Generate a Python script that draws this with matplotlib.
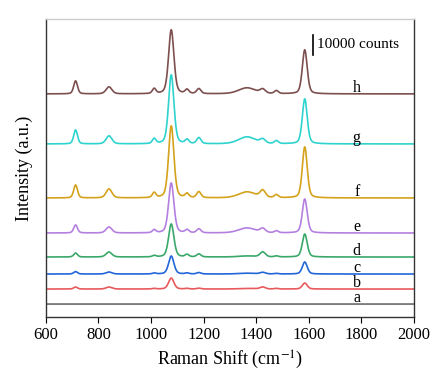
import numpy as np
import matplotlib
matplotlib.use("Agg")
import matplotlib.pyplot as plt

plt.rcParams['font.family'] = ['Liberation Serif', 'DejaVu Serif']
plt.rcParams['mathtext.fontset'] = 'stix'

# peak centres (cm-1) and full widths
centers = [713, 840, 1012, 1077, 1137, 1182, 1365, 1425, 1477, 1585]
widths = [17, 26, 16, 24, 17, 19, 75, 24, 18, 22]

labels = ['a', 'b', 'c', 'd', 'e', 'f', 'g', 'h']
colors = ['#6b6b6b', '#e8595c', '#2266d8', '#3aa86a', '#b480e0',
          '#d4a21c', '#2ed3cf', '#7d4f4f']
# vertical offsets of each trace (counts)
offsets = [0, 7500, 15000, 23500, 35500, 53000, 80000, 105000]
# peak heights for each trace (counts), same order as centers
heights = {
    'a': [0, 0, 0, 0, 0, 0, 0, 0, 0, 0],
    'b': [1000, 1000, 300, 5500, 300, 400, 300, 1000, 300, 3000],
    'c': [1200, 1000, 500, 9000, 500, 700, 400, 800, 300, 6000],
    'd': [2000, 2500, 700, 16500, 1200, 1500, 500, 2500, 500, 11500],
    'e': [4000, 3000, 1500, 25000, 1500, 2000, 2500, 2000, 1000, 17000],
    'f': [6500, 4500, 2500, 36000, 2000, 3000, 3000, 3500, 1500, 25500],
    'g': [7000, 4000, 2500, 34500, 2000, 3000, 3500, 2000, 1500, 22500],
    'h': [6500, 3500, 2500, 32000, 2000, 2500, 3000, 2000, 1500, 22000],
}

x = np.linspace(600, 2000, 1400)


def spectrum(h):
    y = np.zeros_like(x)
    for c, w, a in zip(centers, widths, h):
        g = np.exp(-4 * np.log(2) * (x - c) ** 2 / w ** 2)
        l = 1 / (1 + 4 * (x - c) ** 2 / w ** 2)
        y += a * (0.65 * g + 0.35 * l)
    return y


fig = plt.figure(figsize=(4.37, 3.77), dpi=100)
ax = fig.add_axes([0.105, 0.159, 0.842, 0.791])

for lab, col, off in zip(labels, colors, offsets):
    ax.plot(x, spectrum(heights[lab]) + off, color=col, lw=1.2)
    ax.text(1783, off + 800, lab, fontsize=11.5, ha='center', va='baseline')

# scale bar
ax.plot([1616, 1616], [124500, 134500], color='black', lw=1.2)
ax.text(1630, 129500, '10000 counts', fontsize=11, va='center', ha='left')

ax.set_xlim(600, 2000)
ax.set_ylim(-6500, 142500)
ax.set_xticks(range(600, 2001, 200))
ax.set_yticks([])
ax.tick_params(axis='x', direction='out', length=4, labelsize=12, top=False)
for s in ax.spines.values():
    s.set_linewidth(1.0)
    s.set_color('#333333')
ax.spines['top'].set_color('#cccccc')
ax.set_xlabel('Raman Shift (cm$^{-1}$)', fontsize=13)
ax.set_ylabel('Intensity (a.u.)', fontsize=13, labelpad=9)

fig.savefig('out.png', dpi=100)
